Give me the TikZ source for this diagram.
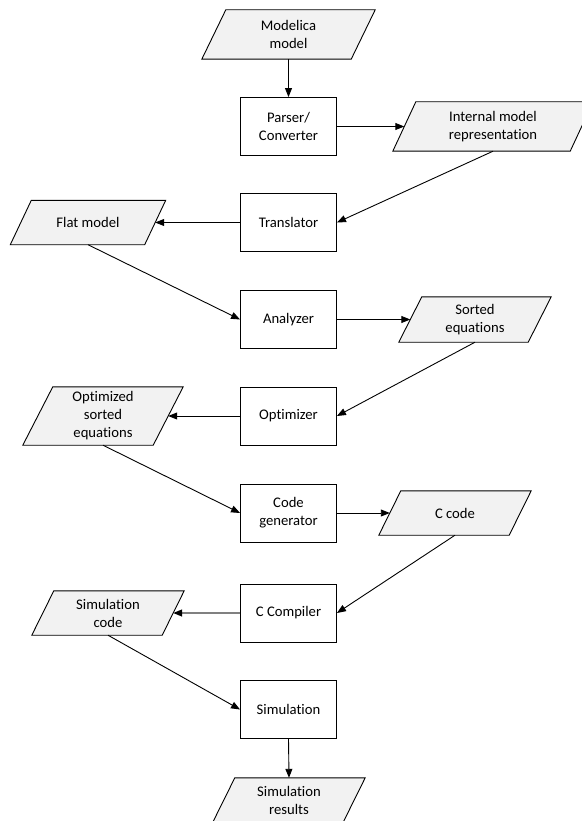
\documentclass[tikz,border=0pt]{standalone}
\usepackage{fontspec}
\setmainfont{Carlito}[Ligatures=NoCommon]
\usetikzlibrary{arrows.meta,backgrounds}

\definecolor{datafill}{HTML}{F2F2F2}

\tikzset{
  stage/.style={draw, line width=0.9pt, rectangle, minimum width=96pt, minimum height=58pt,
    align=center, inner sep=2pt},
  % a data item is an undrawn box as wide as the parallelogram at mid height;
  % the parallelogram itself is drawn behind it
  dataitem/.style={rectangle, minimum width=#1, align=center, inner sep=1pt},
  datashape/.style={draw, line width=0.9pt, fill=datafill, line join=miter},
  flow/.style={line width=0.9pt, -{Triangle[length=9pt,width=7pt]}},
}

\begin{document}
\begin{tikzpicture}[x=1pt,y=-1pt,font=\fontsize{14.67}{18}\selectfont]
\useasboundingbox (0,0) rectangle (581,821);

% processing stages
\node[stage] (parser)     at (288.5,126.5) {Parser/\\Converter};
\node[stage] (translator) at (288.5,222.5) {Translator};
\node[stage] (analyzer)   at (288.5,319.5) {Analyzer};
\node[stage] (optimizer)  at (288.5,416)   {Optimizer};
\node[stage] (codegen)    at (288.5,513)   {Code\\generator};
\node[stage] (ccompiler)  at (288.5,613)   {C Compiler};
\node[stage] (simulation) at (288.5,709.5) {Simulation};

% data passed between stages
\node[dataitem=149pt, minimum height=49pt] (model)      at (288.5,34.5)  {Modelica\\model};
\node[dataitem=177pt, minimum height=49pt] (internal)   at (493,126.5)   {Internal model\\representation};
\node[dataitem=134pt, minimum height=44pt] (flat)       at (88,222.5)    {Flat model};
\node[dataitem=129pt, minimum height=45pt] (sorted)     at (475,319.5)   {Sorted\\equations};
\node[dataitem=130pt, minimum height=58pt] (optsorted)  at (103,416)     {Optimized\\sorted\\equations};
\node[dataitem=130pt, minimum height=44pt] (ccode)      at (455,513)     {C code};
\node[dataitem=130pt, minimum height=44pt] (simcode)    at (108,613)     {Simulation\\code};
\node[dataitem=130pt, minimum height=44pt] (simresults) at (289,800)     {Simulation\\results};

% parallelogram outlines, leaning right, behind the data items
\begin{scope}[on background layer]
  \foreach \n/\s in {model/12, internal/11.5, flat/10.5, sorted/11.5,
                     optsorted/15, ccode/11, simcode/11, simresults/11}
    \path[datashape] ([xshift=\s pt]\n.north west) -- ([xshift=\s pt]\n.north east)
      -- ([xshift=-\s pt]\n.south east) -- ([xshift=-\s pt]\n.south west) -- cycle;
\end{scope}

% flow of the compilation
\draw[flow] (model.south) -- (parser.north);
\draw[flow] (parser) -- (internal);
\draw[flow] (internal.south) -- (translator.east);
\draw[flow] (translator) -- (flat);
\draw[flow] (flat.south) -- (analyzer.west);
\draw[flow] (analyzer) -- (sorted);
\draw[flow] (sorted.south) -- (optimizer.east);
\draw[flow] (optimizer) -- (optsorted);
\draw[flow] (optsorted.south) -- (codegen.west);
\draw[flow] (codegen) -- (ccode);
\draw[flow] (ccode.south) -- (ccompiler.east);
\draw[line width=1.3pt, draw=gray, -{Triangle[length=9pt,width=7pt,color=black]}] (ccompiler) -- (simcode);
\draw[flow] (simcode.south) -- (simulation.west);
\draw[flow] (simulation.south) -- (simresults.north);
\end{tikzpicture}
\end{document}
